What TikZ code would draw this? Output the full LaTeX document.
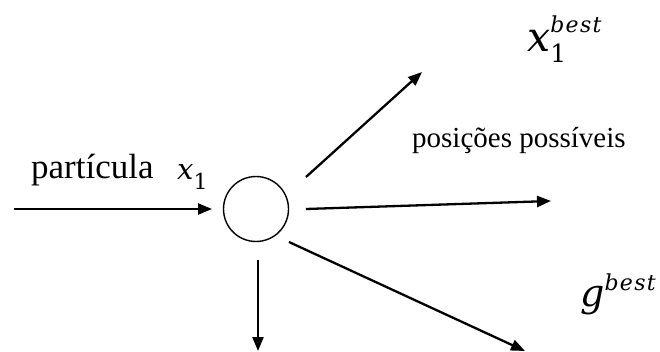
\documentclass[tikz,border=0pt]{standalone}
\usepackage{fontspec}
\setmainfont{Liberation Serif}
\newfontfamily\mfont{DejaVu Serif}
\newfontfamily\bestfont[LetterSpace=6]{DejaVu Serif}
\usetikzlibrary{arrows.meta}
\newcommand{\fs}[1]{\fontsize{#1}{#1}\selectfont}
\begin{document}
\begin{tikzpicture}[x=1pt,y=-1pt,
  conn/.style={line width=2.3pt,-{Triangle[length=14pt,width=11pt]}},
  lbl/.style={inner sep=0pt,anchor=base west}]
\useasboundingbox (0,0) rectangle (660,352);
\node[circle,draw,line width=1.4pt,minimum size=65pt,inner sep=0pt] (c) at (256,209) {};
\coordinate (inS) at (14,209);
\coordinate (inE) at (212,209);
\coordinate (urS) at (306,177);
\coordinate (urE) at (422,72);
\coordinate (rS) at (306,209);
\coordinate (rE) at (551,201);
\coordinate (drS) at (289,242);
\coordinate (drE) at (525,351);
\coordinate (dS) at (258,260);
\coordinate (dE) at (258,351);
\draw[conn] (inS) -- (inE);
\draw[conn] (urS) -- (urE);
\draw[conn] (rS) -- (rE);
\draw[conn] (drS) -- (drE);
\draw[conn] (dS) -- (dE);
\node[lbl] (p) at (31,179) {\fontsize{35}{40}\selectfont partícula};
\node[lbl] (px) at (177,180) {{\mfont\itshape\fs{29}x}\raisebox{-10pt}{\mfont\fs{22}1}};
\node[lbl] (pp) at (412,148) {\fontsize{29}{34}\selectfont posições possíveis};
\node[lbl] (xb) at (527,52) {{\mfont\itshape\fs{41}x}\rlap{\raisebox{-11pt}{\mfont\fs{25}1}}\raisebox{19pt}{\bestfont\itshape\fs{22}best}};
\node[lbl] (gb) at (580,306) {{\mfont\itshape\fs{38}g}\raisebox{16pt}{\bestfont\itshape\fs{22}best}};
\end{tikzpicture}
\end{document}
